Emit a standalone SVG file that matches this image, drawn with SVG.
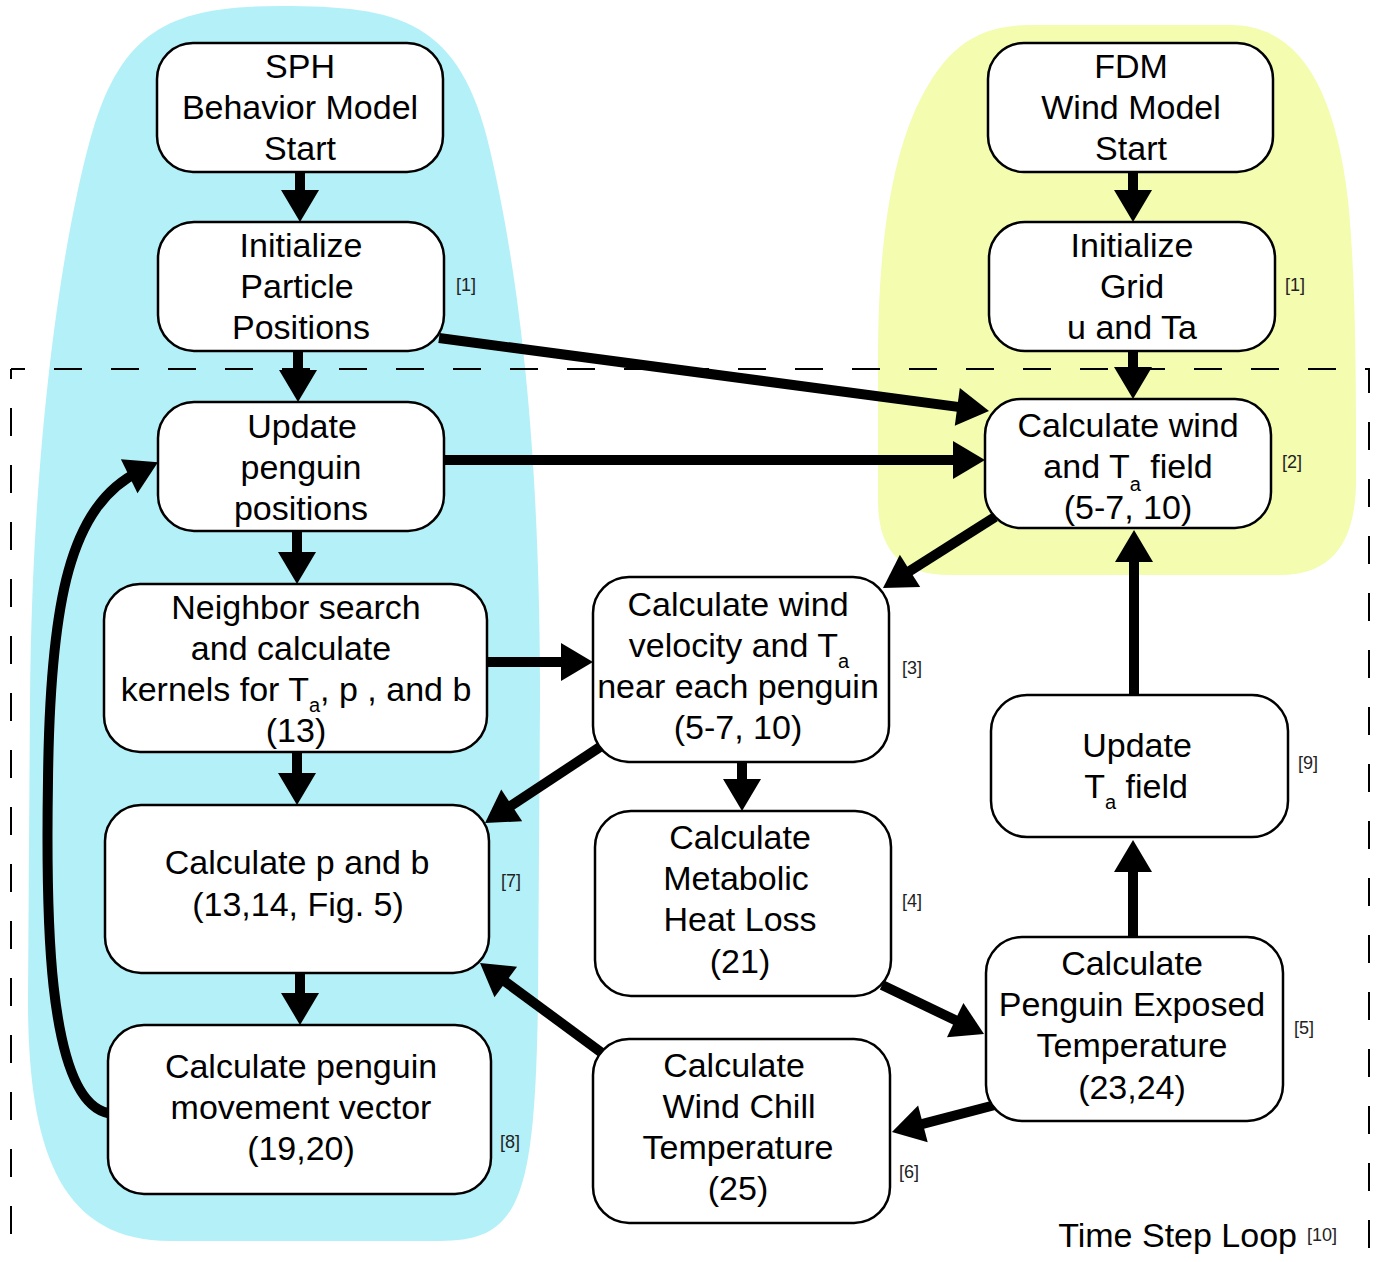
<svg xmlns="http://www.w3.org/2000/svg" width="1377" height="1262" viewBox="0 0 1377 1262">
<style>
.t{font-family:"Liberation Sans",Arial,Helvetica,sans-serif;font-size:34px;text-anchor:middle;fill:#000}
.r{font-family:"Liberation Sans",Arial,Helvetica,sans-serif;font-size:18px;text-anchor:middle;fill:#222}
.box{fill:#fff;stroke:#000;stroke-width:2.5}
.c{fill:none;stroke:#000;stroke-width:10}
.dash{fill:none;stroke:#000;stroke-width:2;stroke-dasharray:28 29}
</style>
<defs>
<marker id="ah" markerUnits="userSpaceOnUse" markerWidth="34" markerHeight="40" refX="12" refY="19" orient="auto" overflow="visible">
<path d="M0,0 L32,19 L0,38 Z" fill="#000"/>
</marker>
</defs>
<g id="regions">
<path id="sph-region" fill="#b4f0f8" d="M280,6 C400,6 460,20 490,150 C520,280 540,450 540,700 L538,1000 C535,1200 520,1241 440,1241 L170,1241 C60,1241 28,1150 28,1000 L30,700 C32,450 60,250 90,140 C120,30 170,6 280,6 Z"/>
<path id="fdm-region" fill="#f4fcb0" d="M1030,25 L1230,25 C1300,25 1335,90 1348,200 C1356,280 1356,380 1356,480 C1356,545 1330,575 1280,575 L950,575 C900,575 878,550 878,500 L878,360 C878,250 890,160 920,100 C945,50 975,25 1030,25 Z"/>
</g>
<g id="time-step-loop">
<path class="dash" d="M11,369 H1369 V1262" stroke-dashoffset="14"/>
<path class="dash" d="M11,369 V1262" stroke-dashoffset="18"/>
<text class="t" x="1297" y="1247" style="text-anchor:end">Time Step Loop</text>
<text class="r" x="1307" y="1241" style="text-anchor:start">[10]</text>
</g>
<g id="connectors">
<line class="c" x1="300" y1="172" x2="300" y2="202" marker-end="url(#ah)"/>
<line class="c" x1="298" y1="351" x2="298" y2="382" marker-end="url(#ah)"/>
<line class="c" x1="439" y1="338" x2="969.2" y2="408.4" marker-end="url(#ah)"/>
<line class="c" x1="444" y1="460" x2="965" y2="460" marker-end="url(#ah)"/>
<line class="c" x1="297" y1="531" x2="297" y2="564" marker-end="url(#ah)"/>
<line class="c" x1="487" y1="662" x2="573" y2="662" marker-end="url(#ah)"/>
<line class="c" x1="297" y1="752" x2="297" y2="785" marker-end="url(#ah)"/>
<line class="c" x1="300" y1="973" x2="300" y2="1005" marker-end="url(#ah)"/>
<line class="c" x1="995" y1="517" x2="899.9" y2="577.3" marker-end="url(#ah)"/>
<line class="c" x1="603" y1="745" x2="501.7" y2="812" marker-end="url(#ah)"/>
<line class="c" x1="742" y1="762" x2="742" y2="791" marker-end="url(#ah)"/>
<line class="c" x1="882" y1="985" x2="966" y2="1025.3" marker-end="url(#ah)"/>
<line class="c" x1="995" y1="1105" x2="911.3" y2="1126.9" marker-end="url(#ah)"/>
<line class="c" x1="602" y1="1053" x2="496.1" y2="974.9" marker-end="url(#ah)"/>
<line class="c" x1="1133" y1="937" x2="1133" y2="860" marker-end="url(#ah)"/>
<line class="c" x1="1134" y1="695" x2="1134" y2="550" marker-end="url(#ah)"/>
<line class="c" x1="1133" y1="351" x2="1133" y2="379" marker-end="url(#ah)"/>
<line class="c" x1="1133" y1="172" x2="1133" y2="202" marker-end="url(#ah)"/>
<path class="c" d="M108,1113 C45,1100 46,900 48,780 C50,600 70,505 140,471" marker-end="url(#ah)"/>
</g>
<g id="sph-start">
<rect class="box" x="157" y="43" width="286" height="129" rx="36"/>
<text class="t" x="300" y="78">SPH</text>
<text class="t" x="300" y="119">Behavior Model</text>
<text class="t" x="300" y="160">Start</text>
</g>
<g id="init-particles">
<rect class="box" x="158" y="222" width="286" height="129" rx="36"/>
<text class="t" x="301" y="257">Initialize</text>
<text class="t" x="297" y="298">Particle</text>
<text class="t" x="301" y="339">Positions</text>
<text class="r" x="466" y="291">[1]</text>
</g>
<g id="update-positions">
<rect class="box" x="158" y="402" width="286" height="129" rx="36"/>
<text class="t" x="302" y="438">Update</text>
<text class="t" x="301" y="479">penguin</text>
<text class="t" x="301" y="520">positions</text>
</g>
<g id="neighbor-search">
<rect class="box" x="104" y="584" width="383" height="168" rx="36"/>
<text class="t" x="296" y="619">Neighbor search</text>
<text class="t" x="291" y="660">and calculate</text>
<text class="t" x="296" y="701">kernels for T<tspan font-size="20" dy="11">a</tspan><tspan dy="-11">, p , and b</tspan></text>
<text class="t" x="296" y="742">(13)</text>
</g>
<g id="calc-p-b">
<rect class="box" x="105" y="805" width="384" height="168" rx="36"/>
<text class="t" x="297" y="874">Calculate p and b</text>
<text class="t" x="298" y="916">(13,14, Fig. 5)</text>
<text class="r" x="511" y="887">[7]</text>
</g>
<g id="movement-vector">
<rect class="box" x="108" y="1025" width="383" height="169" rx="36"/>
<text class="t" x="301" y="1078">Calculate penguin</text>
<text class="t" x="301" y="1119">movement vector</text>
<text class="t" x="301" y="1160">(19,20)</text>
<text class="r" x="510" y="1148">[8]</text>
</g>
<g id="fdm-start">
<rect class="box" x="988" y="43" width="285" height="129" rx="36"/>
<text class="t" x="1131" y="78">FDM</text>
<text class="t" x="1131" y="119">Wind Model</text>
<text class="t" x="1131" y="160">Start</text>
</g>
<g id="init-grid">
<rect class="box" x="989" y="222" width="286" height="129" rx="36"/>
<text class="t" x="1132" y="257">Initialize</text>
<text class="t" x="1132" y="298">Grid</text>
<text class="t" x="1132" y="339">u and Ta</text>
<text class="r" x="1295" y="291">[1]</text>
</g>
<g id="calc-wind-field">
<rect class="box" x="985" y="399" width="286" height="129" rx="36"/>
<text class="t" x="1128" y="437">Calculate wind</text>
<text class="t" x="1128" y="478">and T<tspan font-size="20" dy="13">a</tspan><tspan dy="-13"> field</tspan></text>
<text class="t" x="1128" y="519">(5-7, 10)</text>
<text class="r" x="1292" y="468">[2]</text>
</g>
<g id="wind-near-penguin">
<rect class="box" x="593" y="577" width="296" height="185" rx="36"/>
<text class="t" x="738" y="616">Calculate wind</text>
<text class="t" x="739" y="657">velocity and T<tspan font-size="20" dy="11">a</tspan></text>
<text class="t" x="738" y="698">near each penguin</text>
<text class="t" x="738" y="739">(5-7, 10)</text>
<text class="r" x="912" y="674">[3]</text>
</g>
<g id="metabolic-heat-loss">
<rect class="box" x="595" y="811" width="296" height="185" rx="36"/>
<text class="t" x="740" y="849">Calculate</text>
<text class="t" x="736" y="890">Metabolic</text>
<text class="t" x="740" y="931">Heat Loss</text>
<text class="t" x="740" y="973">(21)</text>
<text class="r" x="912" y="907">[4]</text>
</g>
<g id="update-ta-field">
<rect class="box" x="991" y="695" width="297" height="142" rx="36"/>
<text class="t" x="1137" y="757">Update</text>
<text class="t" x="1136" y="798">T<tspan font-size="20" dy="11">a</tspan><tspan dy="-11"> field</tspan></text>
<text class="r" x="1308" y="769">[9]</text>
</g>
<g id="exposed-temperature">
<rect class="box" x="986" y="937" width="297" height="184" rx="36"/>
<text class="t" x="1132" y="975">Calculate</text>
<text class="t" x="1132" y="1016">Penguin Exposed</text>
<text class="t" x="1132" y="1057">Temperature</text>
<text class="t" x="1132" y="1099">(23,24)</text>
<text class="r" x="1304" y="1034">[5]</text>
</g>
<g id="wind-chill">
<rect class="box" x="593" y="1039" width="297" height="184" rx="36"/>
<text class="t" x="734" y="1077">Calculate</text>
<text class="t" x="739" y="1118">Wind Chill</text>
<text class="t" x="738" y="1159">Temperature</text>
<text class="t" x="738" y="1200">(25)</text>
<text class="r" x="909" y="1178">[6]</text>
</g>
</svg>
